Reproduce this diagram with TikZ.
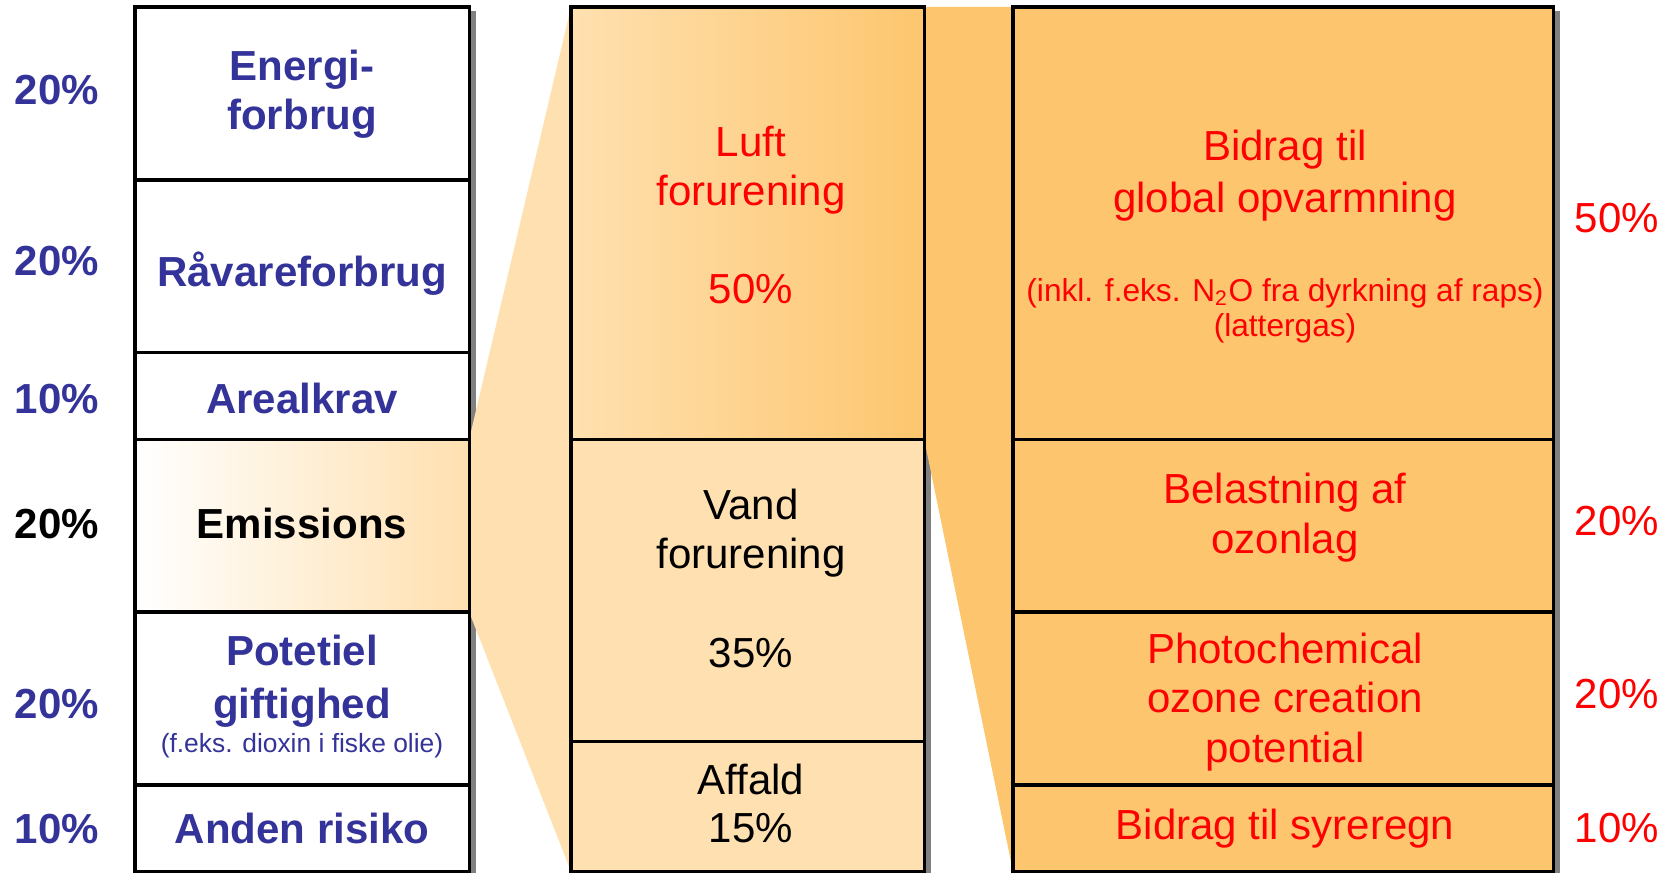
\documentclass[tikz,border=0pt]{standalone}
\usepackage{fontspec}
\setmainfont{Liberation Sans}
\usetikzlibrary{positioning,backgrounds}

\definecolor{navytxt}{RGB}{51,51,153}
\definecolor{redtxt}{RGB}{255,0,0}
\definecolor{peach}{RGB}{255,224,176}
\definecolor{amber}{RGB}{253,198,110}
\definecolor{shadowgray}{RGB}{128,128,128}

\newcommand\bigsize{\fontsize{11.95}{14}\selectfont}
\newcommand\notesize{\fontsize{9}{10}\selectfont}
\newcommand\dioxsize{\fontsize{7.5}{9}\selectfont}

\tikzset{
  cell/.style={draw=black, line width=0.95pt, inner sep=0pt, outer sep=0pt},
  leftcell/.style={cell, fill=white, minimum width=3.34cm},
  midcell/.style={cell, fill=peach, minimum width=3.53cm},
  rightcell/.style={cell, fill=amber, minimum width=5.4cm},
  share/.style={minimum height=#1*0.864cm},
  lefttxt/.style={font=\bfseries\bigsize, text=navytxt, align=center, anchor=base},
  midtxt/.style={font=\bigsize, align=center, anchor=base},
  pcttxt/.style={font=\bigsize, anchor=base},
}

\begin{document}
\begin{tikzpicture}[x=0.01cm, y=-0.01cm]
  \useasboundingbox (0,0) rectangle (1672,873);

  % left column
  \node[leftcell, share=2, anchor=north west] (energi) at (135,7) {};
  \node[leftcell, share=2, below=0pt of energi] (raavare) {};
  \node[leftcell, share=1, below=0pt of raavare] (areal) {};
  \node[leftcell, share=2, below=0pt of areal, left color=white, right color=peach] (emis) {};
  \node[leftcell, share=2, below=0pt of emis] (gift) {};
  \node[leftcell, share=1, below=0pt of gift] (anden) {};

  % middle column
  \node[midcell, share=5, anchor=north west, left color=peach, right color=amber] (luft) at (571,7) {};
  \node[midcell, share=3.5, below=0pt of luft] (vand) {};
  \node[midcell, share=1.5, below=0pt of vand] (affald) {};

  % right column
  \node[rightcell, share=5, anchor=north west] (global) at (1013,7) {};
  \node[rightcell, share=2, below=0pt of global] (ozon) {};
  \node[rightcell, share=2, below=0pt of ozon] (photo) {};
  \node[rightcell, share=1, below=0pt of photo] (syre) {};

  \begin{scope}[on background layer]
    \fill[shadowgray] ([shift={(7,4)}]energi.north west) rectangle ([shift={(7,4)}]anden.south east);
    \fill[shadowgray] ([shift={(7,4)}]luft.north west) rectangle ([shift={(7,4)}]affald.south east);
    \fill[shadowgray] ([shift={(7,4)}]global.north west) rectangle ([shift={(7,4)}]syre.south east);
    % fans
    \fill[peach] (emis.north east) -- (luft.north west) -- (affald.south west) -- (emis.south east) -- cycle;
    \fill[amber] (luft.north east) -- (global.north west) -- (syre.south west) -- (luft.south east) -- cycle;
  \end{scope}

  % labels
  \node[lefttxt] (energi-t) at (302,130) {Energi-\\forbrug};
  \node[lefttxt] (raavare-t) at (302,287) {Råvareforbrug};
  \node[lefttxt] (areal-t) at (302,413) {Arealkrav};
  \node[lefttxt, text=black] (emis-t) at (302,538) {Emissions};
  \node[lefttxt] (gift-t) at (302,718) {Potetiel\\[1pt]giftighed};
  \node[midtxt, font=\dioxsize, text=navytxt] (dioxin-t) at (302,752) {(f.eks. dioxin i fiske olie)};
  \node[lefttxt] (anden-t) at (302,843) {Anden risiko};

  \node[midtxt, text=redtxt] (luft-t) at (751,304) {Luft\\forurening\\[14pt]50\%};
  \node[midtxt] (vand-t) at (751,667) {Vand\\forurening\\[14pt]35\%};
  \node[midtxt] (affald-t) at (751,842) {Affald\\[-0.6pt]15\%};

  \node[midtxt, text=redtxt] (global-t) at (1285,213) {Bidrag til\\[1pt]global opvarmning};
  \node[midtxt, font=\notesize, text=redtxt] (inkl-t) at (1285,337) {(inkl. f.eks. N\textsubscript{2}O fra dyrkning af raps)\\(lattergas)};
  \node[midtxt, text=redtxt] (ozon-t) at (1285,553) {Belastning af\\ozonlag};
  \node[midtxt, text=redtxt] (photo-t) at (1285,762) {Photochemical\\ozone creation\\potential};
  \node[midtxt, text=redtxt] (syre-t) at (1285,839) {Bidrag til syreregn};

  % percentages
  \node[pcttxt, font=\bfseries\bigsize, text=navytxt] (energi-p) at (57,105) {20\%};
  \node[pcttxt, font=\bfseries\bigsize, text=navytxt] (raavare-p) at (57,275) {20\%};
  \node[pcttxt, font=\bfseries\bigsize, text=navytxt] (areal-p) at (57,413) {10\%};
  \node[pcttxt, font=\bfseries\bigsize] (emis-p) at (57,538) {20\%};
  \node[pcttxt, font=\bfseries\bigsize, text=navytxt] (gift-p) at (57,718) {20\%};
  \node[pcttxt, font=\bfseries\bigsize, text=navytxt] (anden-p) at (57,843) {10\%};

  \node[pcttxt, text=redtxt] (global-p) at (1617,233) {50\%};
  \node[pcttxt, text=redtxt] (ozon-p) at (1617,535) {20\%};
  \node[pcttxt, text=redtxt] (photo-p) at (1617,708) {20\%};
  \node[pcttxt, text=redtxt] (syre-p) at (1617,842) {10\%};
\end{tikzpicture}
\end{document}
